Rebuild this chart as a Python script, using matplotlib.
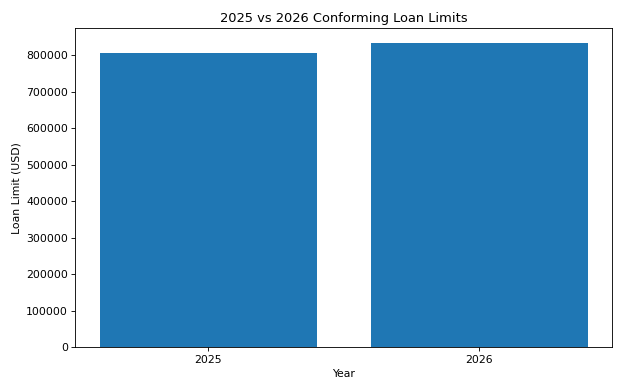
import matplotlib
matplotlib.use("Agg")
import matplotlib.pyplot as plt

years = ["2025", "2026"]
loan_limits = [806500, 832750]

fig, ax = plt.subplots(figsize=(8, 5.013), dpi=78)
ax.bar(years, loan_limits, color="#1f77b4")
ax.set_title("2025 vs 2026 Conforming Loan Limits")
ax.set_xlabel("Year")
ax.set_ylabel("Loan Limit (USD)")
ax.ticklabel_format(axis="y", style="plain")

fig.tight_layout()
fig.savefig("out.png", dpi=78)
plt.close(fig)
